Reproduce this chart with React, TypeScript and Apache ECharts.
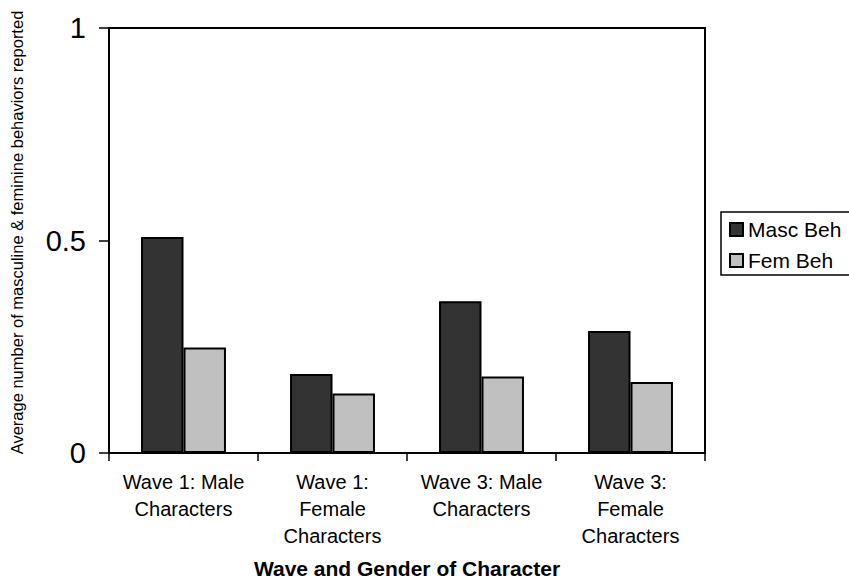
import React, { useEffect, useRef } from "react";
import * as echarts from "echarts";

const categories = [
  "Wave 1: Male\nCharacters",
  "Wave 1:\nFemale\nCharacters",
  "Wave 3: Male\nCharacters",
  "Wave 3:\nFemale\nCharacters",
];
const mascBeh = [0.508, 0.186, 0.357, 0.287];
const femBeh = [0.248, 0.14, 0.18, 0.167];
const seriesNames = ["Masc Beh", "Fem Beh"];
const yTicks = { min: 0, max: 1, interval: 0.5 };

const FONT = "'Liberation Sans', Arial, Helvetica, sans-serif";

export default function App() {
  const ref = useRef<HTMLDivElement>(null);

  useEffect(() => {
    if (!ref.current) return;
    const chart = echarts.init(ref.current, null, { renderer: "svg" });
    chart.setOption({
      animation: false,
      backgroundColor: "#ffffff",
      textStyle: { fontFamily: FONT, color: "#000" },
      grid: {
        left: 100,
        right: 144,
        top: 28,
        bottom: 125.5,
        show: true,
        borderColor: "#000",
        borderWidth: 2,
        backgroundColor: "transparent",
      },
      legend: {
        orient: "vertical",
        left: 721,
        top: 212,
        padding: [7, 16, 4, 8],
        itemGap: 10,
        itemWidth: 13,
        itemHeight: 13,
        borderColor: "#000",
        borderWidth: 1.5,
        icon: "rect",
        textStyle: { fontFamily: FONT, fontSize: 21, color: "#000" },
        data: seriesNames,
      },
      xAxis: {
        type: "category",
        data: categories,
        name: "Wave and Gender of Character",
        nameLocation: "middle",
        nameGap: 105,
        nameTextStyle: { fontFamily: FONT, fontSize: 21, fontWeight: "bold", color: "#000" },
        axisLine: { lineStyle: { color: "#000", width: 2 } },
        axisTick: { show: true, length: 8, lineStyle: { color: "#000", width: 1.5 } },
        axisLabel: {
          fontFamily: FONT,
          fontSize: 20,
          lineHeight: 27,
          color: "#000",
          margin: 15,
          interval: 0,
          align: "center",
        },
      },
      yAxis: {
        type: "value",
        min: yTicks.min,
        max: yTicks.max,
        interval: yTicks.interval,
        name: "Average number of masculine & feminine behaviors reported",
        nameLocation: "middle",
        nameGap: 84,
        nameTextStyle: { fontFamily: FONT, fontSize: 16.5, color: "#000", padding: [0, 0, 0, 16] },
        axisLine: { show: true, lineStyle: { color: "#000", width: 2 } },
        axisTick: { show: true, length: 10, lineStyle: { color: "#000", width: 1.5 } },
        axisLabel: { fontFamily: FONT, fontSize: 29, color: "#000", margin: 23 },
        splitLine: { show: false },
      },
      series: [
        {
          name: seriesNames[0],
          type: "bar",
          data: mascBeh,
          barGap: "0%",
          barCategoryGap: "43%",
          itemStyle: { color: "#333333", borderColor: "#000", borderWidth: 2 },
        },
        {
          name: seriesNames[1],
          type: "bar",
          data: femBeh,
          barGap: "0%",
          barCategoryGap: "43%",
          itemStyle: { color: "#c0c0c0", borderColor: "#000", borderWidth: 2 },
        },
      ],
    });
    return () => chart.dispose();
  }, []);

  return (
    <div
      ref={ref}
      style={{ position: "fixed", left: 0, top: 0, width: 849, height: 584, background: "#fff" }}
    />
  );
}
